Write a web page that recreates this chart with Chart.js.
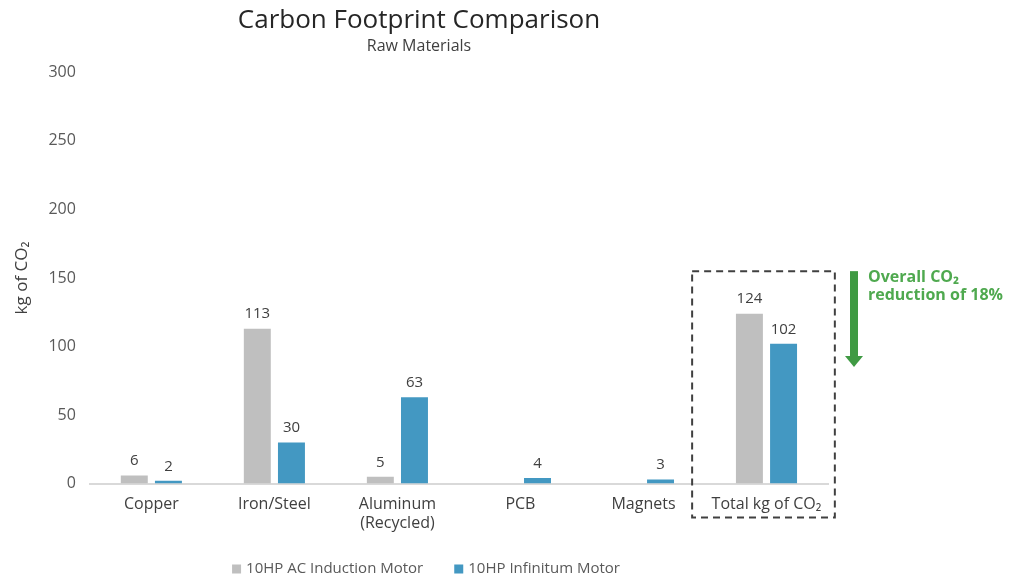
<!DOCTYPE html>
<html>
<head>
<meta charset="utf-8">
<script src="https://cdn.jsdelivr.net/npm/chart.js@4.4.1/dist/chart.umd.min.js"></script>
<style>
html,body{margin:0;padding:0;background:#fff;}
#wrap{width:1010px;height:577px;position:relative;}
</style>
</head>
<body>
<div id="wrap"><canvas id="c" width="1010" height="577"></canvas></div>
<script>
const categories = ["Copper", "Iron/Steel", ["Aluminum", "(Recycled)"], "PCB", "Magnets", "Total kg of CO\u2082"];
const acInduction = [6, 113, 5, null, null, 124];
const infinitum = [2, 30, 63, 4, 3, 102];
const seriesNames = ["10HP AC Induction Motor", "10HP Infinitum Motor"];
const seriesColors = ["#bfbfbf", "#4398c2"];
const yTicks = [0, 50, 100, 150, 200, 250, 300];
const chartTitle = "Carbon Footprint Comparison";
const chartSubtitle = "Raw Materials";
const yAxisTitle = "kg of CO\u2082";
const calloutLines = ["Overall CO\u2082", "reduction of 18%"];

const FONT = "'Open Sans', 'DejaVu Sans', sans-serif";

const labelsPlugin = {
  id: 'valueLabels',
  afterDatasetsDraw(chart) {
    const ctx = chart.ctx;
    ctx.save();
    ctx.font = "15px " + FONT;
    ctx.fillStyle = "#404040";
    ctx.textAlign = "center";
    ctx.textBaseline = "bottom";
    chart.data.datasets.forEach((ds, di) => {
      const meta = chart.getDatasetMeta(di);
      meta.data.forEach((el, i) => {
        const v = ds.data[i];
        if (v === null || v === undefined) return;
        ctx.fillText(String(v), el.x, el.y - 7);
      });
    });
    ctx.restore();
  }
};

const legendPlugin = {
  id: 'bottomLegend',
  afterDraw(chart) {
    const ctx = chart.ctx;
    ctx.save();
    ctx.font = "15px " + FONT;
    ctx.textBaseline = "middle";
    ctx.textAlign = "left";
    const box = 9, gapText = 5, gapItem = 31;
    const items = chart.data.datasets.map(ds => ({ text: ds.label, color: ds.backgroundColor, w: box + gapText + ctx.measureText(ds.label).width }));
    const total = items.reduce((s, it) => s + it.w, 0) + gapItem * (items.length - 1);
    const center = (chart.titleBlock.left + chart.titleBlock.right) / 2 + 7;
    let x = center - total / 2;
    const y = chart.height - 8;
    items.forEach(it => {
      ctx.fillStyle = it.color;
      ctx.fillRect(x, y - box / 2, box, box);
      ctx.fillStyle = "#595959";
      ctx.fillText(it.text, x + box + gapText, y);
      x += it.w + gapItem;
    });
    ctx.restore();
  }
};

const calloutPlugin = {
  id: 'callout',
  afterDraw(chart) {
    const ctx = chart.ctx;
    const xs = chart.scales.x, ys = chart.scales.y;
    const last = categories.length - 1;
    const cx = xs.getPixelForValue(last);
    const half = (xs.getPixelForValue(1) - xs.getPixelForValue(0)) * 0.58;
    const top = ys.getPixelForValue(155);
    const bottom = ys.bottom + 34;
    ctx.save();
    ctx.strokeStyle = "#404040";
    ctx.lineWidth = 2;
    ctx.setLineDash([7, 5]);
    ctx.strokeRect(cx - 3 - half, top, half * 2, bottom - top);
    ctx.setLineDash([]);
    // arrow
    const ax = xs.right + 26;
    const aTop = ys.getPixelForValue(155);
    const aBot = ys.getPixelForValue(85);
    ctx.fillStyle = "#3f9a43";
    ctx.fillRect(ax - 4, aTop, 8, (aBot - aTop) - 10);
    ctx.beginPath();
    ctx.moveTo(ax - 9, aBot - 11);
    ctx.lineTo(ax + 9, aBot - 11);
    ctx.lineTo(ax, aBot);
    ctx.closePath();
    ctx.fill();
    ctx.fillStyle = "#4fa94f";
    ctx.font = "bold 16px " + FONT;
    ctx.textAlign = "left";
    ctx.textBaseline = "middle";
    ctx.fillText(calloutLines[0], ax + 14, aTop + 6);
    ctx.fillText(calloutLines[1], ax + 14, aTop + 24);
    ctx.restore();
  }
};

new Chart(document.getElementById('c'), {
  type: 'bar',
  data: {
    labels: categories,
    datasets: [
      { label: seriesNames[0], data: acInduction, backgroundColor: seriesColors[0], barPercentage: 0.79, categoryPercentage: 0.555 },
      { label: seriesNames[1], data: infinitum, backgroundColor: seriesColors[1], barPercentage: 0.79, categoryPercentage: 0.555 }
    ]
  },
  options: {
    responsive: false,
    animation: false,
    devicePixelRatio: 1,
    layout: { padding: { left: 10, right: 182, top: 5, bottom: 41 } },
    plugins: {
      title: { display: true, text: chartTitle, color: "#262626", font: { family: FONT, size: 26, weight: 'normal' }, padding: { top: 0, bottom: 0 } },
      subtitle: { display: true, text: chartSubtitle, color: "#404040", font: { family: FONT, size: 16 }, padding: { top: 1, bottom: 16 } },
      legend: { display: false },
      tooltip: { enabled: false }
    },
    scales: {
      x: {
        grid: { display: false },
        border: { display: true, color: "#d9d9d9", width: 2 },
        ticks: { color: "#404040", font: { family: FONT, size: 16 }, padding: 3 }
      },
      y: {
        min: 0, max: 300,
        afterBuildTicks(axis) { axis.ticks = yTicks.map(v => ({ value: v })); },
        grid: { display: false, drawTicks: false },
        border: { display: false },
        ticks: { color: "#595959", font: { family: FONT, size: 16 }, padding: 14 },
        title: { display: true, text: yAxisTitle, color: "#404040", font: { family: FONT, size: 17 }, padding: 2 }
      }
    }
  },
  plugins: [labelsPlugin, legendPlugin, calloutPlugin]
});
</script>
</body>
</html>
